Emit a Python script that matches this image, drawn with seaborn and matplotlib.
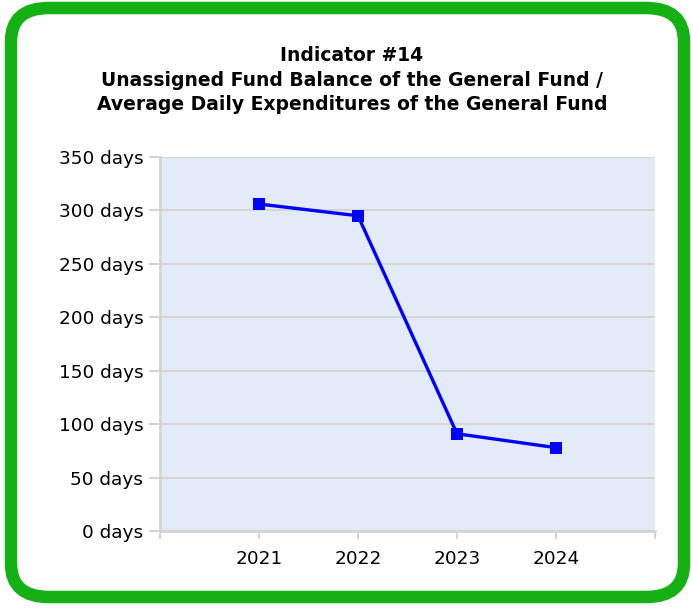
import pandas as pd
import matplotlib.pyplot as plt
import seaborn as sns
from matplotlib.patches import FancyBboxPatch

# Data
years = ['2021', '2022', '2023', '2024']
days = [306, 295, 91, 78]
y_ticks = [0, 50, 100, 150, 200, 250, 300, 350]

df = pd.DataFrame({'year': years, 'days': days})

sns.set_theme(style='white')
plt.rcParams['font.family'] = ['DejaVu Sans']

fig = plt.figure(figsize=(6.91, 6.08), dpi=100)
ax = fig.add_axes([160 / 691, 1 - 531 / 608, 495 / 691, 374 / 608])

# green rounded frame
frame = FancyBboxPatch((11 / 691, 11 / 608), 673 / 691, 589 / 608,
                       boxstyle='round,pad=0,rounding_size=0.055',
                       transform=fig.transFigure, facecolor='white',
                       edgecolor='#14b014', linewidth=9, zorder=-10)
fig.patches.append(frame)

ax.set_facecolor('#e3ebf8')
sns.lineplot(data=df, x='year', y='days', ax=ax, color='#0000ff',
             linewidth=2.4, marker='s', markersize=8, markeredgewidth=0)

ax.set_xlim(-1, 4)
ax.set_ylim(0, 350)
ax.set_yticks(y_ticks)
ax.set_yticklabels([f'{v} days' for v in y_ticks])
ax.set_xticks(range(-1, 5))
ax.set_xticklabels([''] + years + [''])
ax.grid(axis='y', color='#d6d6d6', linewidth=1.5)
ax.set_axisbelow(True)
ax.set_xlabel('')
ax.set_ylabel('')

for side in ['top', 'right']:
    ax.spines[side].set_visible(False)
for side in ['left', 'bottom']:
    ax.spines[side].set_color('#d4d4d4')
    ax.spines[side].set_linewidth(2)
ax.tick_params(axis='both', bottom=True, left=True, width=1.5,
               color='#d4d4d4', labelsize=13.3, labelcolor='black')
ax.tick_params(axis='y', length=8, pad=4)
ax.tick_params(axis='x', length=6, pad=8)

fig.text(352 / 691, 1 - 80 / 608,
         'Indicator #14\nUnassigned Fund Balance of the General Fund /\n'
         'Average Daily Expenditures of the General Fund',
         ha='center', va='center', fontsize=13.5, fontweight='bold',
         color='black', linespacing=1.38)

plt.savefig('out.png', dpi=100)
